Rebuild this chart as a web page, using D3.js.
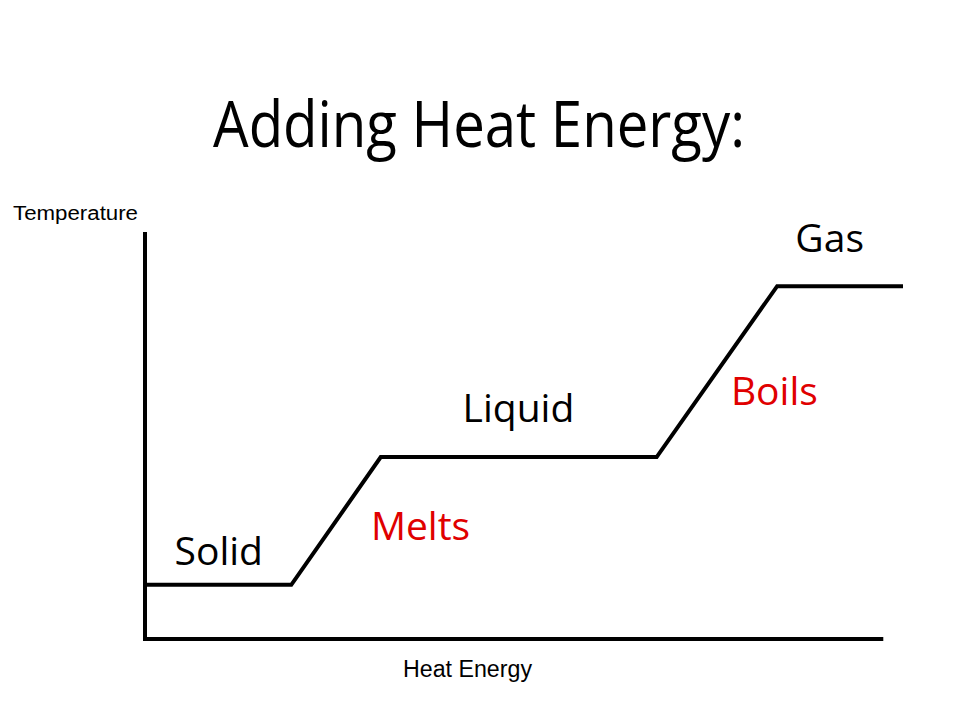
<!DOCTYPE html>
<html><head><meta charset="utf-8">
<script src="https://cdn.jsdelivr.net/npm/d3@7"></script>
<style>body{margin:0;background:#fff}</style>
</head><body><svg id="c" width="960" height="720"></svg>
<script>
const heat = [0, 19.3, 31.1, 67.5, 83.4, 100];
const temperature = [13.3, 13.3, 44.7, 44.7, 86.7, 86.7];
const phaseLabels = ["Solid", "Melts", "Liquid", "Boils", "Gas"];
const phaseX = [3.9, 29.8, 41.9, 77.3, 85.8];
const phaseY = [18.2, 24.3, 53.3, 57.5, 95.1];
const phaseColors = ["#000", "#e00000", "#000", "#e00000", "#000"];

const svg = d3.select("#c");
const x = d3.scaleLinear().domain([0, 100]).range([145, 903]);
const y = d3.scaleLinear().domain([0, 100]).range([639, 232]);
const labelFont = "'Open Sans', Lato, sans-serif";
const axisFont = "'Liberation Sans', Arial, sans-serif";

svg.append("text").attr("x", 479).attr("y", 147).attr("text-anchor", "middle")
  .attr("font-family", labelFont).attr("font-size", 64).attr("fill", "#000")
  .attr("textLength", 532).attr("lengthAdjust", "spacingAndGlyphs")
  .text("Adding Heat Energy:");

// axes
svg.append("line").attr("x1", x(0)).attr("x2", x(0)).attr("y1", y(100)).attr("y2", y(0))
  .attr("stroke", "#000").attr("stroke-width", 4);
svg.append("line").attr("x1", x(0) - 2).attr("x2", x(97.4)).attr("y1", y(0)).attr("y2", y(0))
  .attr("stroke", "#000").attr("stroke-width", 4);

svg.append("path").datum(heat.map((h, i) => [h, temperature[i]]))
  .attr("d", d3.line().x(d => x(d[0])).y(d => y(d[1])))
  .attr("fill", "none").attr("stroke", "#000").attr("stroke-width", 4);

svg.append("text").attr("x", 13).attr("y", 220).attr("font-family", axisFont)
  .attr("font-size", 20).attr("fill", "#000")
  .attr("textLength", 125).attr("lengthAdjust", "spacingAndGlyphs").text("Temperature");
svg.append("text").attr("x", 403).attr("y", 677)
  .attr("font-family", axisFont).attr("font-size", 23).attr("fill", "#000")
  .attr("textLength", 129).attr("lengthAdjust", "spacingAndGlyphs").text("Heat Energy");

svg.selectAll("text.phase").data(phaseLabels).join("text").attr("class", "phase")
  .attr("x", (d, i) => x(phaseX[i])).attr("y", (d, i) => y(phaseY[i]))
  .attr("font-family", labelFont).attr("font-size", 39).attr("font-weight", 500)
  .attr("fill", (d, i) => phaseColors[i]).text(d => d);
</script></body></html>
